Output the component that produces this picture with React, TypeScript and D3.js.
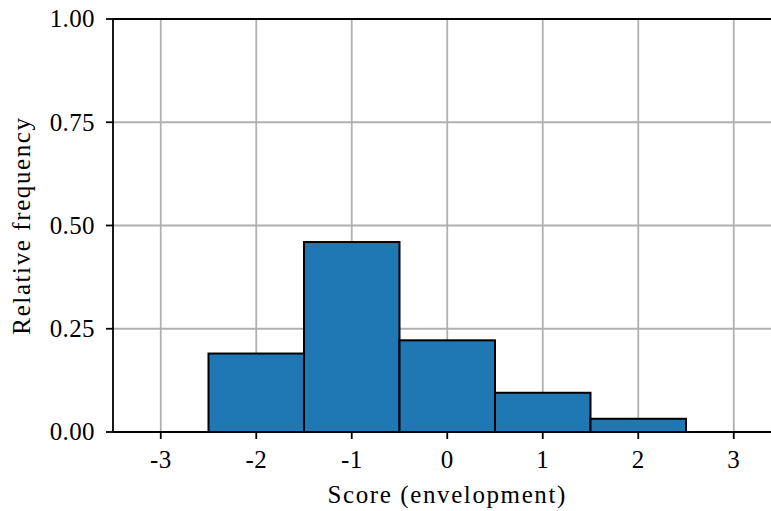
import React from "react";
import * as d3 from "d3";

// Histogram bins (centre score) and their relative frequencies
const scores = [-2, -1, 0, 1, 2];
const frequencies = [0.19, 0.46, 0.222, 0.095, 0.032];
const xTicks = [-3, -2, -1, 0, 1, 2, 3];
const yTicks = [0, 0.25, 0.5, 0.75, 1.0];

const W = 771;
const H = 511;
const margin = { left: 113, top: 19, bottom: 79 };
const textStyle = { fontFamily: '"Liberation Serif", "Times New Roman", serif' };

export default function App() {
  const x = d3.scaleLinear().domain([-3.5, 3.5]).range([margin.left, margin.left + 95.5 * 7]);
  const y = d3.scaleLinear().domain([0, 1]).range([H - margin.bottom, margin.top]);
  const x0 = margin.left;
  const x1 = W + 10;
  const yBottom = y(0);
  const yTop = y(1);

  return (
    <svg
      width={W}
      height={H}
      style={{ position: "absolute", left: 0, top: 0, background: "#fff" }}
    >
      {/* grid */}
      {xTicks.map((t) => (
        <line key={"gx" + t} x1={x(t)} x2={x(t)} y1={yTop} y2={yBottom} stroke="#b0b0b0" strokeWidth={1.8} />
      ))}
      {yTicks.map((t) => (
        <line key={"gy" + t} x1={x0} x2={x1} y1={y(t)} y2={y(t)} stroke="#b0b0b0" strokeWidth={1.8} />
      ))}

      {/* bars */}
      {scores.map((s, i) => (
        <rect
          key={"b" + s}
          x={x(s - 0.5)}
          y={y(frequencies[i])}
          width={x(s + 0.5) - x(s - 0.5)}
          height={yBottom - y(frequencies[i])}
          fill="#1f77b4"
          stroke="#000"
          strokeWidth={2}
        />
      ))}

      {/* spines */}
      <line x1={x0} x2={x0} y1={yTop} y2={yBottom} stroke="#000" strokeWidth={1.8} />
      <line x1={x0} x2={x1} y1={yBottom} y2={yBottom} stroke="#000" strokeWidth={1.8} />
      <line x1={x0} x2={x1} y1={yTop} y2={yTop} stroke="#000" strokeWidth={1.8} />

      {/* x ticks */}
      {xTicks.map((t) => (
        <g key={"xt" + t}>
          <line x1={x(t)} x2={x(t)} y1={yBottom} y2={yBottom + 7} stroke="#000" strokeWidth={1.8} />
          <text x={x(t)} y={yBottom + 36} textAnchor="middle" fontSize={25} letterSpacing={0.4} fill="#000" style={textStyle}>
            {t < 0 ? "-" + Math.abs(t) : String(t)}
          </text>
        </g>
      ))}

      {/* y ticks */}
      {yTicks.map((t) => (
        <g key={"yt" + t}>
          <line x1={x0 - 7} x2={x0} y1={y(t)} y2={y(t)} stroke="#000" strokeWidth={1.8} />
          <text x={x0 - 18} y={y(t)} dy="0.33em" textAnchor="end" fontSize={25} letterSpacing={0.4} fill="#000" style={textStyle}>
            {t.toFixed(2)}
          </text>
        </g>
      ))}

      {/* axis labels */}
      <text x={x(0)} y={503} textAnchor="middle" fontSize={25} letterSpacing={1.6} fill="#000" style={textStyle}>
        Score (envelopment)
      </text>
      <text
        transform={`translate(30, ${(yTop + yBottom) / 2}) rotate(-90)`}
        textAnchor="middle"
        fontSize={25}
        letterSpacing={1.6}
        fill="#000"
        style={textStyle}
      >
        Relative frequency
      </text>
    </svg>
  );
}
